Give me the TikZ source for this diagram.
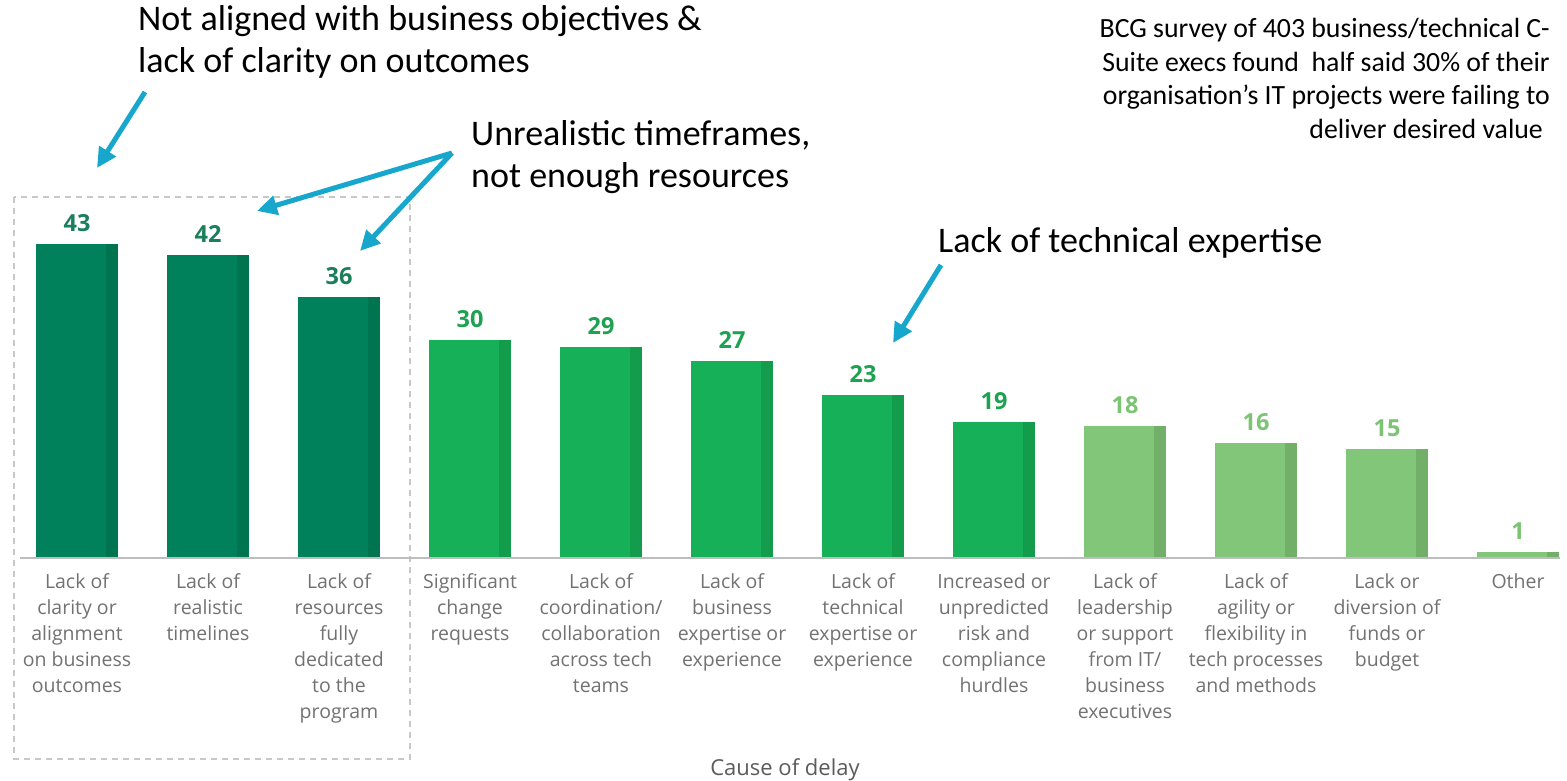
\documentclass[tikz,border=0pt]{standalone}
\usepackage{fontspec}
\setmainfont{Carlito}
\newfontfamily\chartfont{Open Sans}
\usetikzlibrary{arrows.meta}
\definecolor{dkg}{HTML}{00815B}
\definecolor{dkgs}{HTML}{00744F}
\definecolor{mdg}{HTML}{15B058}
\definecolor{mdgs}{HTML}{129C4C}
\definecolor{ltg}{HTML}{82C67A}
\definecolor{ltgs}{HTML}{72B06A}
\definecolor{dkgt}{HTML}{1A7F5B}
\definecolor{mdgt}{HTML}{1CA250}
\definecolor{ltgt}{HTML}{7CC474}
\definecolor{lbl}{HTML}{727272}
\definecolor{axisc}{HTML}{BDBDBD}
\definecolor{boxc}{HTML}{C8C8C8}
\definecolor{arr}{HTML}{17A6CC}
\tikzset{
  vallabel/.style={inner sep=0pt, font=\chartfont\bfseries\fontsize{23.5}{26}\selectfont},
  catlabel/.style={inner sep=0pt, anchor=north, align=center, text=lbl, font=\chartfont\fontsize{19.5}{26}\selectfont},
  anno/.style={inner sep=0pt, anchor=base west, font=\fontsize{36}{42}\selectfont},
  note/.style={inner sep=0pt, anchor=base east, font=\fontsize{27.8}{34}\selectfont},
  callout/.style={draw=arr, line width=5pt, -{Triangle[length=20pt,width=19pt]}},
}
\begin{document}
\begin{tikzpicture}[x=1pt,y=-1pt]
\fill[white] (0,0) rectangle (1567,781);
\useasboundingbox (0,0) rectangle (1567,781);

% dashed highlight box
\draw[boxc, line width=1.2pt, dash pattern=on 6pt off 5pt] (14,197) rectangle (410,759);

% bars
\foreach \i/\v/\yt/\fc/\sc/\tc/\lab in {
 0/43/244/dkg/dkgs/dkgt/{Lack of\\clarity or\\alignment\\on business\\outcomes},
 1/42/255/dkg/dkgs/dkgt/{Lack of\\realistic\\timelines},
 2/36/297/dkg/dkgs/dkgt/{Lack of\\resources\\fully\\dedicated\\to the\\program},
 3/30/340/mdg/mdgs/mdgt/{Significant\\change\\requests},
 4/29/347/mdg/mdgs/mdgt/{Lack of\\coordination/\\collaboration\\across tech\\teams},
 5/27/361/mdg/mdgs/mdgt/{Lack of\\business\\expertise or\\experience},
 6/23/395/mdg/mdgs/mdgt/{Lack of\\technical\\expertise or\\experience},
 7/19/422/mdg/mdgs/mdgt/{Increased or\\unpredicted\\risk and\\compliance\\hurdles},
 8/18/426/ltg/ltgs/ltgt/{Lack of\\leadership\\or support\\from IT/\\business\\executives},
 9/16/443/ltg/ltgs/ltgt/{Lack of\\agility or\\flexibility in\\tech processes\\and methods},
 10/15/449/ltg/ltgs/ltgt/{Lack or\\diversion of\\funds or\\budget},
 11/1/552/ltg/ltgs/ltgt/{Other}}{
  \pgfmathsetmacro\xl{36+131*\i}
  \fill[\fc] (\xl,\yt) rectangle (\xl+82,557);
  \fill[\sc] (\xl+70,\yt) rectangle (\xl+82,557);
  \node[vallabel, text=\tc] (v\i) at (\xl+41,\yt-21) {\v};
  \node[catlabel] (c\i) at (\xl+41,573) {\lab};
}

% axis
\draw[axisc, line width=1.5pt] (20,558) -- (1560,558);

% axis title
\node[inner sep=0pt, text=lbl!80!black, font=\chartfont\fontsize{22}{26}\selectfont] (axt) at (785,770) {Cause of delay};

% annotations
\node[anno] (t1a) at (138,31) {Not aligned with business objectives \&};
\node[anno] (t1b) at (138,73) {lack of clarity on outcomes};
\node[anno] (t2a) at (471,146) {Unrealistic timeframes,};
\node[anno] (t2b) at (471,187) {not enough resources};
\node[anno] (t3) at (938,252) {Lack of technical expertise};

% note top right
\node[note] (n1) at (1550,38) {BCG survey of 403 business/technical C-};
\node[note] (n2) at (1550,72) {Suite execs found\ \ half said 30\% of their};
\node[note] (n3) at (1550,105) {organisation’s IT projects were failing to};
\node[note] (n4) at (1543,139) {deliver desired value};

% arrows
\coordinate (a1s) at (145,92);
\coordinate (a1e) at (97,168);
\coordinate (a2s) at (452,153);
\coordinate (a2e) at (257,211);
\coordinate (a3e) at (360,251);
\coordinate (a4s) at (941,265);
\coordinate (a4e) at (893,343);
\draw[callout] (a1s) -- (a1e);
\draw[callout] (a2s) -- (a2e);
\draw[callout] (a2s) -- (a3e);
\draw[callout] (a4s) -- (a4e);
\end{tikzpicture}
\end{document}
